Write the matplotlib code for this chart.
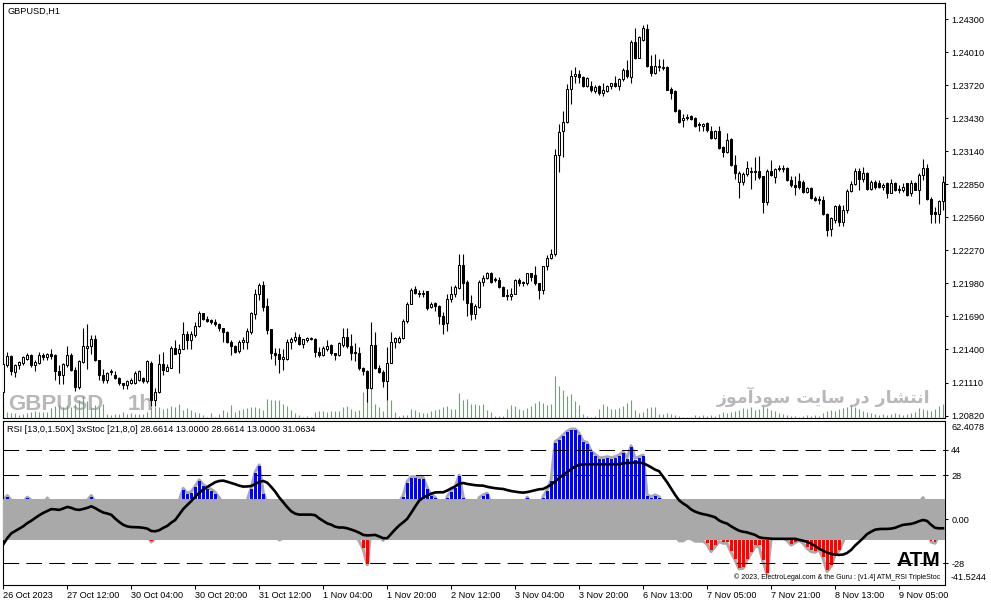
import matplotlib
matplotlib.use("Agg")
import matplotlib.pyplot as plt
from matplotlib.patches import Rectangle
from matplotlib.collections import LineCollection
import numpy as np

plt.rcParams['font.family'] = ['Liberation Sans', 'DejaVu Sans']

# ---------------- data (prices in pips above 1.2000) ----------------
BASE = 1.2
PIP = 0.0001
opens = [103,126,134,120,126,128,132,135,126,128,
         135,133,136,135,121,118,126,135,122,107,
         129,141,143,149,131,118,113,121,118,115,
         111,109,111,111,113,115,112,128,96,103,
         127,121,124,141,137,140,154,148,153,161,
         172,167,166,164,162,159,155,147,143,139,
         147,147,155,171,189,197,178,158,137,136,
         132,132,147,148,151,145,148,149,149,138,
         135,140,144,137,135,144,151,143,138,137,
         124,121,106,144,124,120,112,128,147,147,
         150,165,180,193,189,189,191,177,181,178,
         169,163,184,189,194,214,199,181,171,177,
         199,203,207,202,201,195,187,187,189,201,
         198,198,207,205,198,192,213,220,224,311,
         332,340,369,380,382,379,371,371,367,371,
         365,367,371,374,371,377,385,379,410,396,
         412,421,389,383,388,387,388,369,367,350,
         341,343,345,343,337,336,339,332,326,332,
         318,313,325,302,287,287,294,296,297,297,
         292,269,297,291,298,298,299,289,284,288,
         287,278,282,273,272,271,259,246,254,266,
         252,262,279,285,297,290,295,281,287,286,
         283,286,277,286,280,280,286,277,286,280,
         293,299,272,261,259,270]
highs = [128,138,135,127,130,134,137,136,131,138,
         137,137,140,136,126,128,143,137,125,131,
         159,162,153,153,131,123,120,123,121,116,
         111,113,115,121,122,116,131,130,106,136,
         138,127,143,148,145,164,156,156,164,174,
         172,169,167,167,163,159,156,148,144,148,
         151,159,173,193,198,200,185,158,141,141,
         140,149,151,155,154,149,151,151,150,142,
         143,148,145,137,147,159,159,154,146,142,
         125,122,164,155,126,122,142,155,151,152,
         167,182,194,196,192,192,191,182,182,179,
         173,189,196,197,224,224,201,188,180,201,
         205,208,208,204,204,196,193,194,202,203,
         200,207,207,213,198,213,223,228,316,338,
         349,373,385,388,385,380,379,376,372,372,
         374,372,374,380,378,387,394,412,422,415,
         425,426,398,399,395,395,389,370,368,351,
         347,347,346,344,340,339,340,336,333,336,
         319,330,326,311,297,296,305,300,309,310,
         292,298,306,299,302,302,300,292,292,295,
         289,283,283,275,275,275,260,256,267,268,
         267,281,288,299,299,300,296,289,289,289,
         286,287,290,287,284,286,286,289,287,295,
         307,303,274,265,271,292]
lows = [102,125,118,116,123,126,131,125,121,127,
        131,131,132,113,110,110,125,121,104,105,
        128,123,136,130,113,111,111,118,114,109,
        105,105,110,110,112,111,111,90,90,102,
        118,121,124,136,119,140,140,140,151,160,
        166,164,162,161,156,147,146,135,137,137,
        140,140,154,167,183,174,154,132,126,119,
        122,131,140,147,144,141,147,148,133,133,
        134,139,135,131,134,142,141,131,130,122,
        118,94,105,123,119,107,96,128,141,146,
        149,163,180,189,186,186,175,176,174,162,
        154,156,182,186,193,183,169,166,167,176,
        196,202,198,199,194,187,183,183,189,196,
        196,197,200,197,184,189,210,219,222,296,
        309,339,355,374,374,370,370,366,365,363,
        362,366,369,370,368,376,378,374,395,396,
        411,388,380,382,384,385,368,360,348,339,
        335,341,341,335,332,332,331,325,325,316,
        309,312,301,290,273,284,292,281,289,290,
        260,267,292,286,297,296,288,283,276,281,
        277,277,272,270,268,258,240,240,251,248,
        248,260,278,284,280,287,280,280,281,282,
        280,273,277,279,277,278,275,275,280,268,
        289,271,251,251,251,262]
closes = [127,134,121,126,129,133,135,126,129,135,
          133,136,134,121,118,127,135,122,107,130,
          143,143,149,131,118,113,119,120,115,111,
          109,112,113,119,121,112,130,96,103,127,
          122,125,141,136,140,154,148,154,161,172,
          167,165,164,162,159,155,147,143,138,147,
          148,156,172,189,197,177,157,137,135,132,
          133,147,149,151,145,149,150,150,138,135,
          141,143,137,135,146,151,143,137,137,124,
          121,106,144,124,120,112,128,147,150,150,
          165,180,192,190,190,190,176,180,178,169,
          162,184,189,195,214,198,181,171,178,199,
          203,207,199,201,195,187,188,189,201,198,
          199,207,204,198,192,213,220,224,311,331,
          340,369,380,382,379,371,378,368,370,365,
          368,371,374,371,377,385,380,410,396,414,
          422,389,383,389,389,388,368,365,349,340,
          343,344,342,336,338,338,333,326,332,317,
          313,324,302,295,295,294,299,297,296,291,
          269,297,293,298,299,299,289,284,283,283,
          278,282,273,271,271,259,245,255,266,252,
          262,279,285,297,290,295,281,287,283,283,
          284,277,286,280,281,283,276,286,280,293,
          299,272,259,259,270,287]
volumes = [14,6,5,5,3,4,5,6,7,6,
           6,6,10,12,13,11,13,11,14,18,
           22,17,11,13,11,14,4,3,4,4,
           6,4,5,4,4,4,6,11,11,11,
           9,10,12,11,14,8,10,8,6,5,
           3,1,5,1,4,8,6,13,6,8,
           9,10,11,11,10,8,19,18,18,18,
           14,12,8,5,3,1,2,1,6,7,
           7,6,7,7,7,11,12,9,7,8,
           26,17,29,14,11,7,18,18,6,2,
           3,3,9,8,6,5,5,7,8,9,
           11,12,9,9,25,18,19,14,14,13,
           14,8,6,2,2,2,9,13,12,9,
           8,10,12,15,17,15,13,14,42,32,
           28,22,24,17,13,4,2,1,2,9,
           14,12,9,9,10,12,15,18,8,5,
           6,10,11,11,4,4,5,4,3,2,
           1,1,1,3,2,3,2,3,2,4,
           6,5,6,7,8,10,9,11,8,9,
           12,10,8,7,5,4,3,2,2,1,
           2,3,2,3,2,5,7,8,7,9,
           10,11,13,11,9,7,6,5,4,3,
           4,3,4,5,4,3,4,5,6,10,
           9,8,7,9,12,14]
hist = [12,15,12,10,9,11,14,12,10,8,
        9,13.5,10,8,5,6,9,11,7,4,
        8,12,15,11,6,2,-3,-5,-4,-6,
        -8,-7,-9,-10,-11,-12,-11,-14.5,-12,-8,
        -4,0,4,8,12,19.6,16.5,17.5,21,25,
        22,20,19,17,13.5,10,6,3,2,5,
        9,12,20,30,34.5,17,10,6,-9,-13.3,
        -12,-6,0,3,2,4,6,5,3,0,
        -3,-2,-4,-6,-3,2,-2,-7,-10,-14,
        -19,-29,-6,-8,-11,-13.5,-5,3,7,11,
        15,24,27,27,26.5,26.5,20,15.5,14,8,
        3,14.3,18,20.7,28,14.3,6,2,5,13.7,
        15.4,16.5,10,8,5,0,2,4,7,5,
        8,14,10,8,6,14.3,18.6,24.9,49.3,51,
        53.5,56,57.3,57.3,54.6,49.7,48.8,43.3,41.2,39.1,
        39.1,39.7,39.1,39.7,40.8,42.9,39.1,46.7,38.7,39.7,
        40.8,15.4,14.3,15.4,14.3,10,2,-5,-10,-13.8,
        -13.8,-12,-12.5,-14,-14,-14,-15.9,-20.6,-17.4,-14.2,
        -15.3,-15.3,-21,-25.9,-31.6,-31.2,-25.9,-21.6,-17.4,-17.4,
        -27,-35,-13,-12,-11,-12,-13.5,-16.5,-15,-13.5,
        -15.3,-18.5,-20.6,-21,-19.5,-24.8,-33.3,-30,-22.7,-20.1,
        -14.2,-8,-2,4,8,10,6,7,5,4,
        3,2,4,3,2,4,3,6,5,10,
        13.7,8,-14.5,-15.3,-10,-8]
signal = [-16,-12,-9,-7.5,-6,-4.5,-2.5,-1,0.8,2.5,
          4,5.2,6.4,6.2,5.9,6.8,7.8,7.2,6.2,5.9,
          6.5,7.2,8.2,7,5.5,4.2,3.6,2.8,0.3,-1.8,
          -3.6,-4.6,-5,-5.1,-5.2,-5.5,-6,-7.5,-7.7,-7,
          -5.5,-4.3,-2.2,-0.5,3,6.5,9,11.5,14.3,16.8,
          18.8,20.5,22,23.5,24.3,24.5,23.8,23,22.2,21.3,
          20.7,20.8,21.1,22.3,23.8,24.3,23.2,20.5,17.5,13.8,
          10.8,7.7,5,3.5,2.9,2.9,2.9,2.9,2.5,0.5,
          -1.1,-2.7,-3.5,-4.8,-5.3,-5.3,-5.8,-6.6,-7.5,-8.6,
          -10,-10.3,-10.2,-10,-11,-12.1,-12.1,-9.3,-6.5,-4,
          -2,0.2,4,8,11.8,13.7,15,16.2,17,17.1,
          17.1,18.2,19.6,20.8,22.5,23,22.4,22,21.6,21.4,
          21.3,20.6,20.1,19.7,19.4,19.2,18.5,17.9,17.5,17.1,
          16.9,17.2,17.8,18.4,19,19.2,20.5,22,24,26.2,
          28.1,30,31.8,33.5,34.5,34.9,34.9,34.9,34.9,34.9,
          34.9,34.9,34.9,34.9,34.9,35.5,35.7,35.9,36.1,36.1,
          35.5,34.4,33,31.5,30.5,27,23.5,19.5,15.5,12,
          10,8.4,6.2,4.8,3.9,3.2,2.7,2,1.2,-0.8,
          -2,-2.8,-4.5,-6,-7.3,-8,-8.4,-9.2,-10,-11.5,
          -12,-12.2,-12.4,-12.5,-12.5,-12.5,-12.5,-12.5,-12.5,-13.1,
          -13.7,-14.4,-15.5,-17,-18.7,-20,-21.2,-22,-22.5,-22.7,
          -22.5,-21.5,-19.6,-16.8,-14.5,-12.1,-9.5,-8,-6.7,-6.3,
          -6.2,-6.2,-6,-5.5,-4.5,-3.6,-3.3,-3,-2.3,-1.3,
          -0.5,-1.1,-3.5,-5.5,-5.8,-5.8]
time_labels = ["26 Oct 2023", "27 Oct 12:00", "30 Oct 04:00", "30 Oct 20:00",
               "31 Oct 12:00", "1 Nov 04:00", "1 Nov 20:00", "2 Nov 12:00",
               "3 Nov 04:00", "3 Nov 20:00", "6 Nov 13:00", "7 Nov 05:00",
               "7 Nov 21:00", "8 Nov 13:00", "9 Nov 05:00"]
time_label_bars = [0, 16, 32, 48, 64, 80, 96, 112, 128, 144, 160, 176, 192, 208, 224]
price_ticks = [1.20820, 1.21110, 1.21400, 1.21690, 1.21980, 1.22270, 1.22560,
               1.22850, 1.23140, 1.23430, 1.23720, 1.24010, 1.24300]
ind_levels = [44, 28, -28]
ind_ticks = [44, 28, 0, -28]
ind_tick_labels = ["44", "28", "0.00", "-28"]
band_level = 13.0
ind_max, ind_min = 62.4078, -41.5244
ind_title = "RSI [13,0,1.50X] 3xStoc [21,8,0] 28.6614 13.0000 28.6614 13.0000 31.0634"

# ---------------- figure ----------------
W, H = 991, 605
fig = plt.figure(figsize=(W / 100, H / 100), dpi=100)
fig.patch.set_facecolor('white')

def frect(x0, y0, x1, y1):
    return [x0 / W, 1 - y1 / H, (x1 - x0) / W, (y1 - y0) / H]

main_rect = frect(3, 3, 945, 418)
sub_rect = frect(3, 421, 945, 584.5)

n = len(closes)
x = np.arange(n)
O = BASE + np.array(opens) * PIP
Hh = BASE + np.array(highs) * PIP
L = BASE + np.array(lows) * PIP
C = BASE + np.array(closes) * PIP
xlim = (-0.08, 235.5)
ylim = (1.207989, 1.244404)

# volume axes (behind)
axv = fig.add_axes(main_rect, zorder=0)
axv.set_xlim(*xlim)
axv.set_ylim(0, max(volumes) / 0.101)
axv.axis('off')
axv.vlines(x, 0, volumes, colors='#32cd32', linewidth=0.8, zorder=2)

wm_color = '#b8b8b8'
axv.text(8 / W, 1 - 410 / H, "GBPUSD", transform=fig.transFigure, fontsize=16,
         fontweight='bold', color=wm_color, va='baseline', ha='left',
         family=['Liberation Sans', 'DejaVu Sans'], zorder=1)
axv.text(128 / W, 1 - 410 / H, "1h", transform=fig.transFigure, fontsize=16,
         fontweight='bold', color=wm_color, va='baseline', ha='left',
         family=['Liberation Sans', 'DejaVu Sans'], zorder=1)
# Persian watermark "انتشار در سایت سودآموز" (pre-shaped presentation forms, visual order)
persian = "\uFEAF\uFEEE\uFEE3\uFE81\uFEA9\uFEEE\uFEB3 \uFE96\uFEF3\uFE8E\uFEB3 \uFEAD\uFEA9 \uFEAD\uFE8E\uFEB8\uFE98\uFEE7\uFE8D"
axv.text(930 / W, 1 - 403 / H, persian, transform=fig.transFigure, fontsize=12.5,
         fontweight='bold', color=wm_color, va='baseline', ha='right',
         family=['DejaVu Sans'], zorder=1)

# price axes
ax = fig.add_axes(main_rect, zorder=1)
ax.set_facecolor('none')
ax.set_xlim(*xlim)
ax.set_ylim(*ylim)
segs = [[(xi, lo), (xi, hi)] for xi, lo, hi in zip(x, L, Hh)]
ax.add_collection(LineCollection(segs, colors='black', linewidths=0.8, zorder=2))
bw = 0.5
for xi, o, c in zip(x, O, C):
    bull = c >= o
    lo, hi = min(o, c), max(o, c)
    if hi - lo < 0.6 * PIP:
        ax.plot([xi - 0.37, xi + 0.37], [c, c], color='black', lw=0.9, zorder=3,
                solid_capstyle='butt')
    else:
        ax.add_patch(Rectangle((xi - bw / 2, lo), bw, hi - lo,
                               facecolor='white' if bull else 'black',
                               edgecolor='black', linewidth=0.75, zorder=3))
ax.yaxis.tick_right()
ax.set_yticks(price_ticks)
ax.set_yticklabels([f"{p:.5f}" for p in price_ticks])
ax.tick_params(axis='y', direction='out', length=2.5, width=0.75, pad=2,
               labelsize=6.6, colors='black')
ax.set_xticks([])
for s in ax.spines.values():
    s.set_linewidth(0.8)
fig.text(7 / W, 1 - 11 / H, "GBPUSD,H1", fontsize=6.6, va='center', ha='left')

# indicator axes
ax2 = fig.add_axes(sub_rect, zorder=1)
ax2.set_facecolor('white')
ax2.set_xlim(*xlim)
ax2.set_ylim(ind_min, ind_max)
hv = np.array(hist, dtype=float)
up = hv > band_level
dn = hv < -band_level
ax2.plot(x, hv, color='#a9a9a9', lw=2.2, zorder=1, solid_joinstyle='round')
ax2.bar(x[up], hv[up] - band_level - 0.8, bottom=band_level, width=0.74,
        color='#0000ff', linewidth=0, zorder=2)
ax2.bar(x[dn], hv[dn] + band_level + 0.8, bottom=-band_level, width=0.74,
        color='#ff0000', linewidth=0, zorder=2)
ax2.axhspan(-band_level, band_level, color='#a9a9a9', lw=0, zorder=3)
for lv in ind_levels:
    ax2.axhline(lv, color='black', lw=0.75, ls=(0, (15, 7)), zorder=4)
ax2.plot(x, signal, color='black', lw=1.9, zorder=5)

ax2.yaxis.tick_right()
ax2.set_yticks(ind_ticks)
ax2.set_yticklabels(ind_tick_labels)
ax2.tick_params(axis='y', direction='out', length=2.5, width=0.75, pad=2,
                labelsize=6.6)
fig.text(951 / W, 1 - 427.5 / H, f"{ind_max:.4f}", fontsize=6.6, va='center', ha='left')
fig.text(951 / W, 1 - 577 / H, f"{ind_min:.4f}", fontsize=6.6, va='center', ha='left')
ax2.set_xticks(time_label_bars)
ax2.set_xticklabels(time_labels)
for lbl in ax2.get_xticklabels():
    lbl.set_ha('left')
ax2.tick_params(axis='x', direction='out', length=3, width=0.75, pad=1.5,
                labelsize=6.6)
for s in ax2.spines.values():
    s.set_linewidth(0.8)

fig.text(7 / W, 1 - 429 / H, ind_title, fontsize=6.6, va='center', ha='left')
fig.text(940 / W, 1 - 560 / H, "ATM", fontsize=15, fontweight='bold',
         va='center', ha='right', zorder=10)
fig.text(940 / W, 1 - 577 / H,
         "\u00a9 2023, ElectroLegal.com & the Guru : [v1.4] ATM_RSI TripleStoc",
         fontsize=5, va='center', ha='right', zorder=10)

fig.savefig("out.png", dpi=100, facecolor='white')
